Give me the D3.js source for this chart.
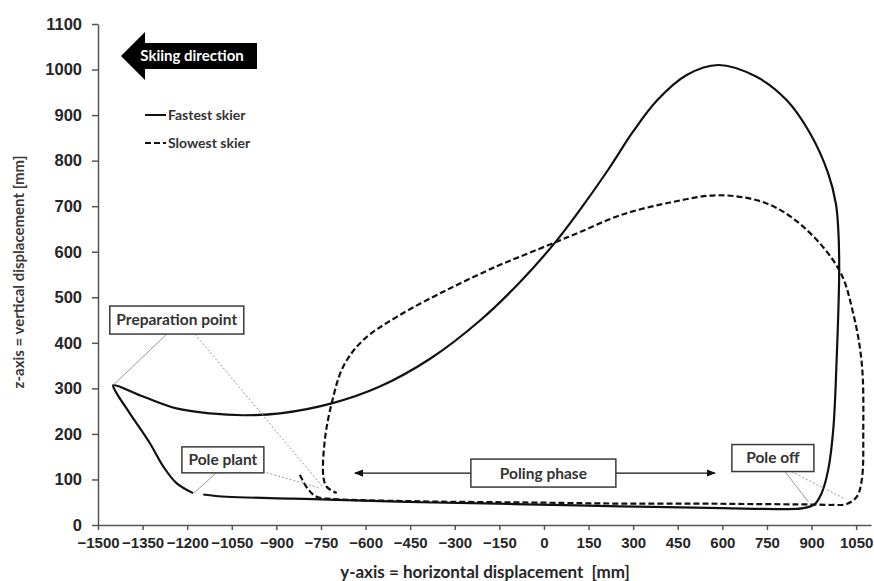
<!DOCTYPE html>
<meta charset="utf-8">
<head>
    <title>Pole trajectory</title>
    <script src="https://d3js.org/d3.v7.min.js"></script>
</head>

<style>
    body { margin: 0; background: #fff; }
    svg { font-family: Lato, "Open Sans", sans-serif; }
    .axis path, .axis line { stroke: #555; stroke-width: 1.5px; }
    .axis text { fill: #262626; font-weight: bold; }
    .trace { fill: none; stroke: #111; stroke-width: 2.2px; }
    .box rect { fill: #fff; stroke: #3a3a3a; stroke-width: 1.5px; }
    .box text { fill: #333; font-weight: bold; font-size: 15.5px; }
    .lead { stroke: #999; stroke-width: 1px; fill: none; }
</style>

<svg width="874" height="581"></svg>

<script>
    // fastest skier, pole plant -> bottom -> pole off -> swing -> preparation point -> pole plant
    var fastY = [-1146, -1067, -843, -697, -417, -100, 256, 600, 800, 872, 911, 934, 956, 973, 984, 993, 990, 982,
        956, 895, 816, 715, 586, 480, 380, 300, 216, 121, 37, -81, -215, -383, -552,
        -714, -888, -1011, -1123, -1236, -1348, -1449, -1443, -1393, -1325, -1280, -1236, -1180];
    var fastZ = [67, 62, 58, 55, 50, 46, 41, 37, 35, 37, 46, 70, 121, 209, 355, 560, 648, 705,
        772, 860, 933, 984, 1010, 988, 932, 864, 780, 692, 620, 533, 449, 365, 304,
        267, 245, 241, 245, 256, 282, 307, 296, 245, 179, 128, 92, 70];

    // slowest skier
    var slowY = [-821, -795, -765, -707, -417, 0, 256, 500, 703, 900, 973, 1018, 1052, 1069, 1074, 1069, 1040,
        993, 872, 749, 592, 424, 256, 121, 43, -81, -159, -327, -495, -608, -675, -714, -737, -742, -731, -697];
    var slowZ = [110, 80, 62, 57, 52, 49, 47, 47, 46, 45, 44, 46, 62, 99, 209, 355, 465,
        560, 655, 706, 724, 708, 680, 643, 622, 589, 568, 516, 457, 406, 348, 267, 187, 106, 84, 70];

    var yTicks = d3.range(-1500, 1051, 150);
    var zTicks = d3.range(0, 1101, 100);

    var svg = d3.select('svg');
    var x = d3.scaleLinear().domain([-1500, 1100]).range([98, 871]);
    var y = d3.scaleLinear().domain([0, 1100]).range([525, 24]);

    // axes
    svg.append('g').attr('class', 'axis').attr('transform', 'translate(0,' + y(0) + ')')
        .call(d3.axisBottom(x).tickValues(yTicks).tickFormat(d3.format('d')).tickSize(5).tickSizeOuter(0).tickPadding(7))
        .selectAll('text').style('font-size', '15px');
    svg.append('g').attr('class', 'axis').attr('transform', 'translate(' + x(-1500) + ',0)')
        .call(d3.axisLeft(y).tickValues(zTicks).tickFormat(d3.format('d')).tickSize(6).tickSizeOuter(0).tickPadding(10))
        .selectAll('text').style('font-size', '16.5px');

    svg.append('text').attr('x', 485).attr('y', 578).attr('text-anchor', 'middle')
        .style('font-size', '17px').style('font-weight', 'bold').style('white-space', 'pre').attr('fill', '#262626')
        .text('y-axis = horizontal displacement  [mm]');
    svg.append('text').attr('transform', 'translate(24,272) rotate(-90)').attr('text-anchor', 'middle')
        .style('font-size', '15px').style('font-weight', 'bold').attr('fill', '#3a3a3a')
        .text('z-axis = vertical displacement [mm]');

    // traces
    var line = d3.line()
        .x(function (d) { return x(d[0]); })
        .y(function (d) { return y(d[1]); })
        .curve(d3.curveCatmullRom.alpha(0.5));
    svg.append('path').attr('class', 'trace').attr('d', line(d3.zip(fastY, fastZ)));
    svg.append('path').attr('class', 'trace').attr('stroke-dasharray', '6,3').attr('d', line(d3.zip(slowY, slowZ)));

    // leader lines (data coordinates)
    var leads = [
        [[-1269, 419], [-1449, 307], false],
        [[-1174, 419], [-743, 83], true],
        [[-1101, 115], [-1178, 70], false],
        [[-933, 115], [-753, 81], true],
        [[811, 117], [889, 51], false],
        [[833, 117], [1007, 59], true]
    ];
    leads.forEach(function (l) {
        svg.append('line').attr('class', 'lead')
            .attr('x1', x(l[0][0])).attr('y1', y(l[0][1]))
            .attr('x2', x(l[1][0])).attr('y2', y(l[1][1]))
            .attr('stroke-dasharray', l[2] ? '2,2' : null);
    });

    // poling phase arrow
    svg.append('defs').append('marker').attr('id', 'ah').attr('viewBox', '0 0 10 10')
        .attr('refX', 9).attr('refY', 5).attr('markerWidth', 7).attr('markerHeight', 7)
        .attr('orient', 'auto-start-reverse')
        .append('path').attr('d', 'M0,1L10,5L0,9Z').attr('fill', '#111');
    svg.append('line').attr('x1', x(-636)).attr('x2', x(575)).attr('y1', y(114)).attr('y2', y(114))
        .attr('stroke', '#111').attr('stroke-width', 1.3)
        .attr('marker-start', 'url(#ah)').attr('marker-end', 'url(#ah)');

    // labelled boxes
    var boxes = [
        ['Preparation point', -1235, 450, 134, 28],
        ['Pole plant', -1080, 143, 82, 26],
        ['Poling phase', -2, 114, 145, 28],
        ['Pole off', 770, 147, 82, 27]
    ];
    boxes.forEach(function (b) {
        var g = svg.append('g').attr('class', 'box')
            .attr('transform', 'translate(' + x(b[1]) + ',' + y(b[2]) + ')');
        g.append('rect').attr('x', -b[3] / 2).attr('y', -b[4] / 2).attr('width', b[3]).attr('height', b[4]);
        g.append('text').attr('text-anchor', 'middle').attr('dy', '0.35em').text(b[0]);
    });

    // skiing direction arrow
    var ski = svg.append('g').attr('transform', 'translate(121,56)');
    ski.append('path').attr('d', 'M0,0L24,-24L24,-13L136,-13L136,13L24,13L24,24Z').attr('fill', '#000');
    ski.append('text').attr('x', 71).attr('dy', '0.35em').attr('text-anchor', 'middle')
        .attr('fill', '#fff').style('font-size', '15px').style('font-weight', 'bold').text('Skiing direction');

    // legend
    var leg = svg.append('g').attr('transform', 'translate(145,115)');
    leg.append('line').attr('x2', 21).attr('stroke', '#111').attr('stroke-width', 2);
    leg.append('line').attr('y1', 28).attr('y2', 28).attr('x2', 21).attr('stroke', '#111')
        .attr('stroke-width', 2).attr('stroke-dasharray', '6,3');
    leg.append('text').attr('x', 23).attr('dy', '0.35em').style('font-size', '14px').style('font-weight', 'bold')
        .attr('fill', '#333').text('Fastest skier');
    leg.append('text').attr('x', 23).attr('y', 28).attr('dy', '0.35em').style('font-size', '14px').style('font-weight', 'bold')
        .attr('fill', '#333').text('Slowest skier');
</script>
